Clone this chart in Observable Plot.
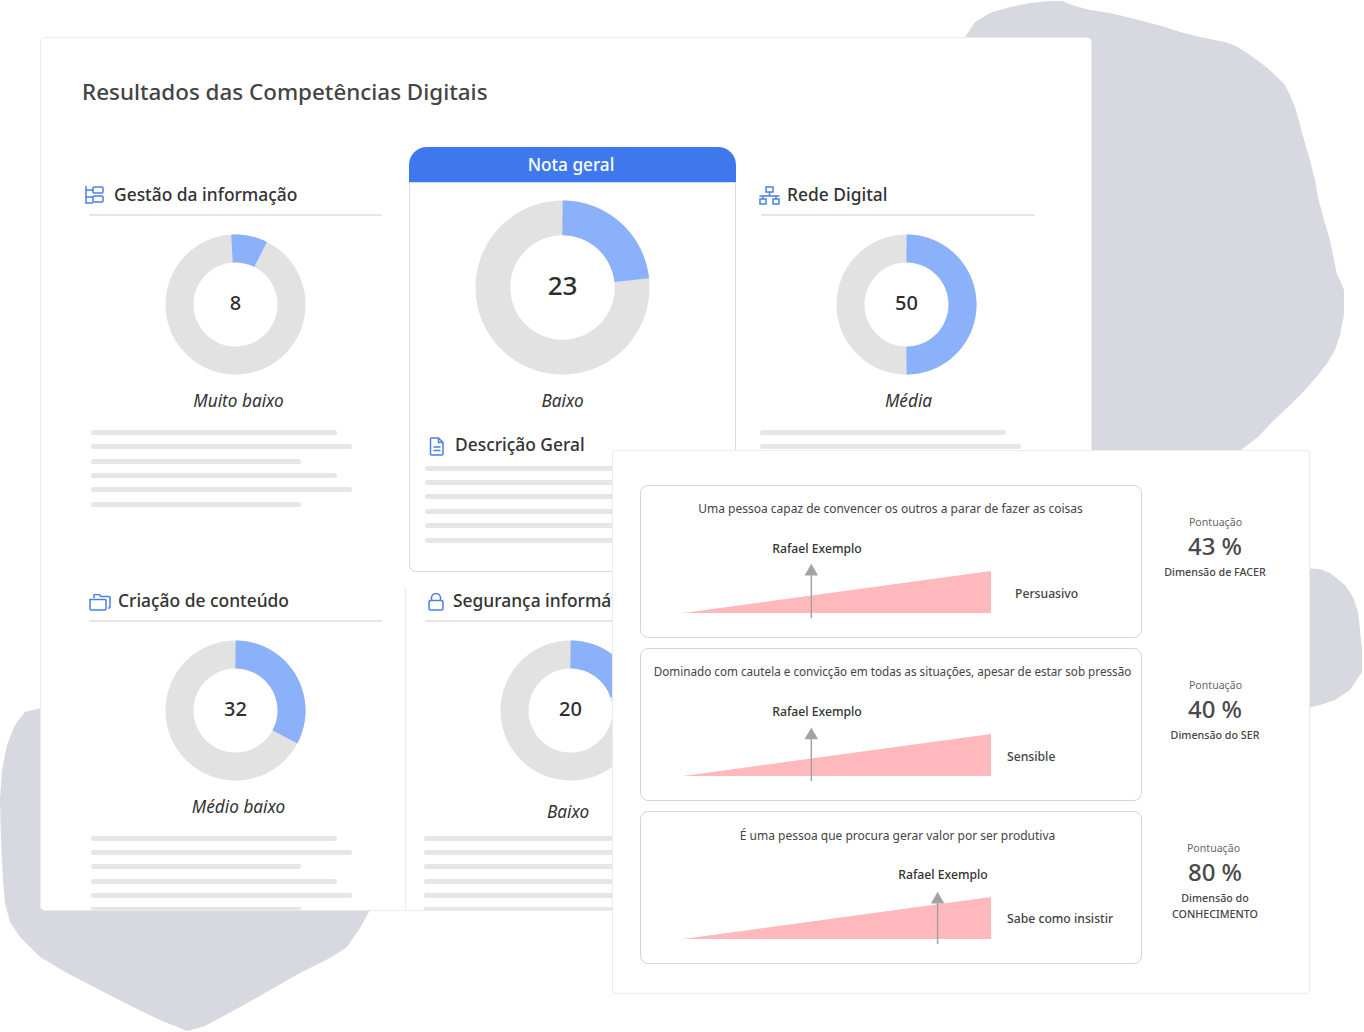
<!DOCTYPE html>
<html lang="pt"><head><meta charset="utf-8">
<script src="https://cdn.jsdelivr.net/npm/d3@7"></script>
<script src="https://cdn.jsdelivr.net/npm/@observablehq/plot@0.6"></script>
<style>
html,body{margin:0;padding:0;background:#fff}
#root{position:relative;width:1364px;height:1032px;overflow:hidden;font-family:"Noto Sans",sans-serif;color:#333}
.a{position:absolute}
.t{position:absolute;white-space:nowrap;line-height:1}
.bar{position:absolute;height:5px;border-radius:3px;background:#e6e6e6}
svg{display:block}
</style></head><body><div id="root"></div>
<script>
const pageTitle = "Resultados das Competências Digitais";
const donutTitles = ["Gestão da informação", "Nota geral", "Rede Digital", "Criação de conteúdo", "Segurança informática"];
const donutValues = [8, 23, 50, 32, 20];
const donutStarts = [-1, 0, 0, 0, 0];
const donutEnds = [7.4, 23.3, 50, 32.8, 20];
const donutLevels = ["Muito baixo", "Baixo", "Média", "Médio baixo", "Baixo"];
const statements = ["Uma pessoa capaz de convencer os outros a parar de fazer as coisas",
  "Dominado com cautela e convicção em todas as situações, apesar de estar sob pressão",
  "É uma pessoa que procura gerar valor por ser produtiva"];
const personName = "Rafael Exemplo";
const endLabels = ["Persuasivo", "Sensible", "Sabe como insistir"];
const arrowAt = [41.5, 41.5, 82.5];
const scores = ["43 %", "40 %", "80 %"];
const scoreHeading = "Pontuação";
const dimensions = [["Dimensão de FACER"], ["Dimensão do SER"], ["Dimensão do", "CONHECIMENTO"]];
const wedge = [0, 100];

const root = document.getElementById("root");
const FONT = '"Noto Sans",sans-serif';
const el = (cls, css, html) => { const d = document.createElement("div"); d.className = cls; d.style.cssText = css; if (html) d.innerHTML = html; root.append(d); return d; };
const text = (s, x, y, size, o = {}) => {
  const d = el("t", `left:${x}px;top:${y}px;font-size:${size}px;color:${o.color||"#333"};font-weight:${o.weight||400};font-style:${o.italic?"italic":"normal"};transform:translate(${o.center?"-50%":"0"},-50%)`);
  d.textContent = s; return d;
};
const blob = (pts) => el("a", `left:0;top:0;width:1364px;height:1032px;background:#d7d8e0;clip-path:polygon(${pts.map(p=>p[0]+"px "+p[1]+"px").join(",")})`);
const place = (svg, x, y) => { svg.style.position = "absolute"; svg.style.left = x + "px"; svg.style.top = y + "px"; root.append(svg); };
const bars = (x, ys, ws) => ys.forEach((y, i) => el("bar", `left:${x}px;top:${y-2.5}px;width:${ws[i%3]}px`));
const icon = (x, y, w, h, vb, body) => el("a", `left:${x}px;top:${y}px;width:${w}px;height:${h}px`,
  `<svg width="${w}" height="${h}" viewBox="${vb}" fill="none" stroke="#4a7fe3" stroke-width="1.5">${body}</svg>`);

function arc(from, to) {
  const out = [];
  for (let v = from; v < to; v += 0.25) { const a = v / 100 * 2 * Math.PI; out.push({x: 0.8 * Math.sin(a), y: 0.8 * Math.cos(a)}); }
  const a = to / 100 * 2 * Math.PI; out.push({x: 0.8 * Math.sin(a), y: 0.8 * Math.cos(a)});
  return out;
}
function donut(i, cx, cy, r, size) {
  const svg = Plot.plot({
    width: 2 * r, height: 2 * r, margin: 0,
    x: {domain: [-1, 1], range: [0, 2 * r], axis: null},
    y: {domain: [-1, 1], range: [2 * r, 0], axis: null},
    style: {background: "transparent", overflow: "visible", fontFamily: FONT},
    marks: [
      Plot.line(arc(wedge[0], wedge[1]), {x: "x", y: "y", stroke: "#e2e2e2", strokeWidth: 0.4 * r, strokeLinecap: "butt", strokeLinejoin: "miter"}),
      Plot.line(arc(donutStarts[i], donutEnds[i]), {x: "x", y: "y", stroke: "#8cb1fb", strokeWidth: 0.4 * r, strokeLinecap: "butt", strokeLinejoin: "miter"}),
      Plot.text([String(donutValues[i])], {x: () => 0, y: () => 0, text: d => d, fontSize: size, fill: "#2e2e2e", fontWeight: 500, dy: -1})
    ]
  });
  place(svg, cx - r, cy - r);
}

/* background shapes */
blob([[965,37],[975,22],[990,13],[1010,7],[1030,3],[1050,1],[1062,1],[1075,6],[1090,10],[1110,13],[1135,19],[1165,27],[1180,32],[1200,37],[1225,42],[1238,47],[1250,55],[1265,66],[1272,72],[1285,85],[1290,95],[1296,110],[1300,125],[1304,140],[1310,160],[1315,180],[1318,198],[1324,220],[1330,240],[1333,255],[1337,275],[1340,280],[1344,290],[1344,315],[1340,335],[1335,350],[1328,362],[1318,375],[1305,390],[1290,405],[1272,422],[1258,437],[1241,450],[1241,460],[965,460]]);
blob([[1300,568],[1320,569],[1330,573],[1345,585],[1353,597],[1358,612],[1360,630],[1362,650],[1362,672],[1350,690],[1335,700],[1320,705],[1300,710]]);
blob([[60,703],[25,712],[15,725],[7,745],[2,770],[0,800],[1,840],[3,880],[5,903],[10,922],[20,937],[40,957],[67,973],[90,985],[133,1007],[160,1020],[187,1031],[205,1026],[240,1007],[265,993],[300,973],[330,958],[347,947],[360,928],[370,910],[370,703]]);

/* main card */
el("a", "left:40px;top:37px;width:1050px;height:872px;background:#fff;border:1px solid #ececec;border-radius:5px");
text(pageTitle, 82, 92, 22.4, {color:"#444", weight:500});

const w3 = [246, 261, 210];
/* Nota geral panel */
el("a", "left:409px;top:178px;width:325px;height:393px;border:1px solid #d9d9d9;border-top:none;border-radius:0 0 7px 7px;background:#fff");
el("a", "left:409px;top:147px;width:327px;height:36px;background:#3f78ec;border-radius:18px 18px 0 0;border-bottom:1px solid #cfdcf5;box-sizing:border-box");
text(donutTitles[1], 571, 165, 17.2, {color:"#fff", weight:500, center:true});
donut(1, 562, 287, 87, 26);
text(donutLevels[1], 562.5, 401, 17.2, {italic:true, center:true});
text("Descrição Geral", 455, 445, 17.4, {weight:500});
bars(425, [468,482,496,511,525,540], [300,300,300]);
icon(429,437,16,19,"0 0 16 19",'<path d="M2.5 1h7l4.5 4.5v11.500a1 1 0 0 1-1 1h-10.500a1 1 0 0 1-1-1v-15a1 1 0 0 1 1-1zM9.500 1v4.500h4.500M4.500 10h7M4.500 13.500h7"/>');

/* Gestão */
icon(85,186,19,18,"0 0 19 18",'<path d="M1 0v17h7M1 4h7M1 11h7"/><rect x="8" y="1" width="10" height="6" rx="1"/><rect x="8" y="10" width="10" height="6" rx="1"/>');
text(donutTitles[0], 114, 195, 17.4, {weight:500});
el("a", "left:89px;top:214px;width:293px;height:1.500px;background:#e6e6e6");
donut(0, 235, 304, 70, 20);
text(donutLevels[0], 238.5, 401, 17.2, {italic:true, center:true});
bars(91, [432,446,461,475,489,504], w3);

/* Rede Digital */
icon(759,186,21,19,"0 0 21 19",'<rect x="7" y="1" width="7" height="5"/><rect x="1" y="13" width="6" height="5"/><rect x="14" y="13" width="6" height="5"/><path d="M10.500 6v4M0.500 10h20M4 10v3M17 10v3"/>');
text(donutTitles[2], 787, 195, 17.4, {weight:500});
el("a", "left:761px;top:214px;width:274px;height:1.500px;background:#e6e6e6");
donut(2, 906, 304, 70, 20);
text(donutLevels[2], 908.5, 401, 17.2, {italic:true, center:true});
bars(760, [432,446], w3);

/* Criação */
icon(89,594,22,17,"0 0 22 17",'<path d="M5 4v-2.500a1 1 0 0 1 1-1h4l2 2h8a1 1 0 0 1 1 1v9.500a1 1 0 0 1-1 1h-1"/><path d="M1 5.500h15a1 1 0 0 1 1 1v8.500a1 1 0 0 1-1 1h-14a1 1 0 0 1-1-1z"/>');
text(donutTitles[3], 118, 601, 17.4, {weight:500});
el("a", "left:89px;top:620px;width:293px;height:1.500px;background:#e6e6e6");
donut(3, 235, 710, 70, 20);
text(donutLevels[3], 238.5, 807, 17.2, {italic:true, center:true});
bars(91, [838,852,866,881,895], w3);
el("bar", "left:91px;top:907px;width:210px;height:3px;border-radius:0");

/* Segurança */
el("a", "left:405px;top:588px;width:1px;height:322px;background:#ececec");
icon(428,593,16,18,"0 0 16 18",'<rect x="1" y="7.500" width="14" height="9.500" rx="1.500"/><path d="M3.500 7.500v-2.500a4.500 4.500 0 0 1 9 0v2.500"/>');
text(donutTitles[4], 453, 601, 17.4, {weight:500});
el("a", "left:425px;top:620px;width:200px;height:1.500px;background:#e6e6e6");
donut(4, 570, 710, 70, 20);
text(donutLevels[4], 568, 812, 17.2, {italic:true, center:true});
bars(424, [838,852,866,881,895], [200,200,200]);
el("bar", "left:424px;top:907px;width:200px;height:3px;border-radius:0");

/* results card */
el("a", "left:612px;top:450px;width:696px;height:542px;background:#fff;border:1px solid #ececec;border-radius:3px");

const boxTop = [485, 648, 811];
const endX = [1015, 1007, 1007];
const endDy = [108.5, 108.5, 107.5];
const nameX = [817, 817, 943];
const headY = [100, 98, 95];
const statementX = [890.5, 892.5, 897.5];
const statementSize = [12, 11.7, 12];
const statementDy = [24, 24, 25];
boxTop.forEach((top, i) => {
  el("a", `left:640px;top:${top}px;width:500px;height:151px;border:1px solid #d6d6d6;border-radius:8px`);
  const svg = Plot.plot({
    width: 502, height: 153, margin: 0,
    x: {domain: [0, 100], range: [43, 351], axis: null},
    y: {domain: [0, 100], range: [128, 86], axis: null},
    style: {background: "transparent", overflow: "visible", fontFamily: FONT},
    marks: [
      Plot.areaY(wedge.map(v => ({x: v, y: v})), {x: "x", y: "y", fill: "#ffb8bb"}),
      Plot.ruleX([arrowAt[i]], {y1: -12, y2: headY[i], stroke: "#a3a3a3", strokeWidth: 1.5}),
      Plot.dot([arrowAt[i]], {x: d => d, y: () => headY[i], symbol: "triangle", r: 5, fill: "#a3a3a3"})
    ]
  });
  place(svg, 640, top);
  text(statements[i], statementX[i], top + statementDy[i], statementSize[i], {center:true, color:"#444"});
  text(personName, nameX[i], top + 63.5, 12.2, {center:true, weight:500, color:"#333"});
  text(endLabels[i], endX[i], top + endDy[i], 12.2, {weight:500, color:"#444"});
  const cx = 1215;
  text(scoreHeading, i === 2 ? 1213.500 : 1215.500, top + 37, 10.600, {center:true, color:"#666"});
  text(scores[i], cx, top + 60.5, 24, {center:true, weight:500, color:"#4a4a4a"});
  dimensions[i].forEach((line, k) => text(line, cx, top + 87 + k * 16, 10.700, {center:true, weight:500, color:"#444"}));
});
</script></body></html>
